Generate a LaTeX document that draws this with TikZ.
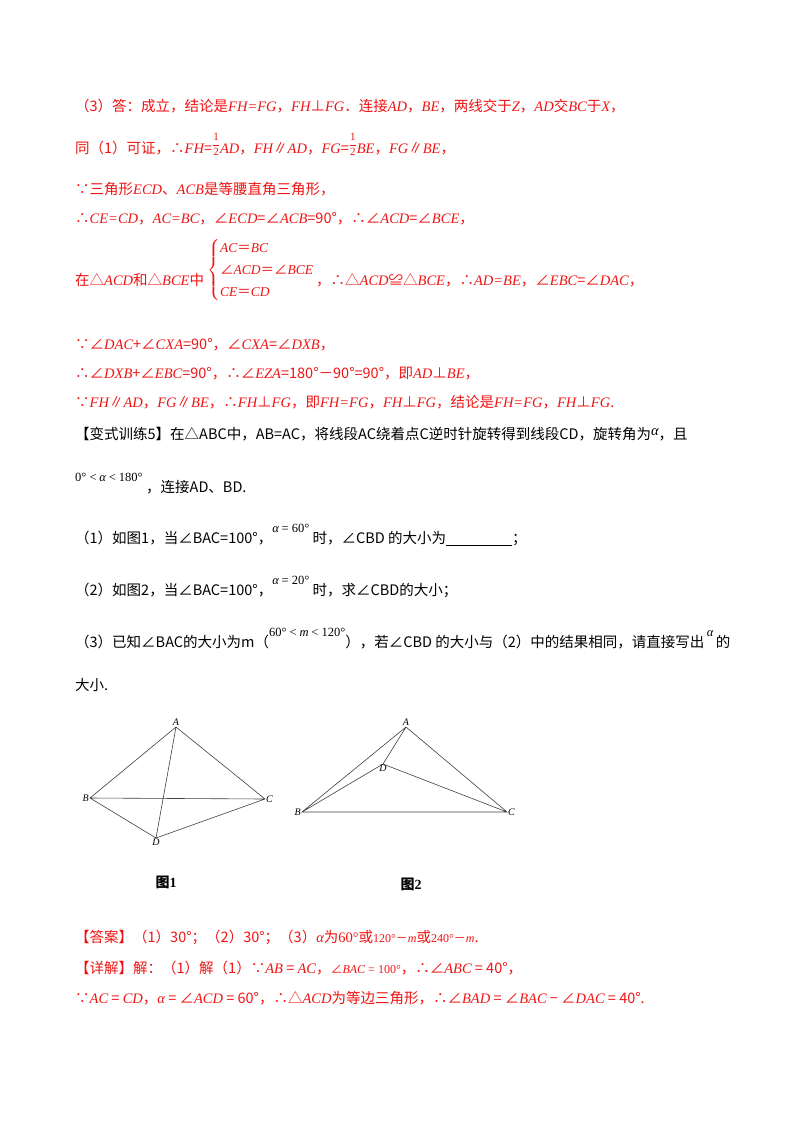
\documentclass[tikz,border=0pt]{standalone}
\usepackage{fontspec}
\usepackage{amsmath}
\setmainfont{Noto Sans CJK SC}
\newfontfamily\lser{Liberation Serif}
\newcommand{\mi}[1]{{\lser\itshape #1}}
\newcommand{\mr}[1]{{\lser #1}}
\newcommand{\half}{\raisebox{5pt}{\fontsize{11}{11}\selectfont\lser$\dfrac{\text{1}}{\text{2}}$}}
\newcommand{\upm}[1]{\raisebox{11pt}{\fontsize{12.5}{13}\selectfont #1}}
\definecolor{myred}{RGB}{240,20,20}
\begin{document}
\begin{tikzpicture}[x=1pt,y=-1pt,
 txt/.style={anchor=base west,inner sep=0pt,font=\fontsize{14.5}{16}\selectfont},
 rtxt/.style={txt,text=myred},
 sm/.style={anchor=base west,inner sep=0pt,font=\fontsize{12.5}{13}\selectfont},
 lab/.style={inner sep=1pt,font=\fontsize{10}{10}\selectfont\lser\itshape},
 edge/.style={draw=black!75,line width=0.6pt}]
\useasboundingbox[fill=white] (0,0) rectangle (800,1132);
% red proof
\node[rtxt] (l1) at (75,111) {（3）答：成立，结论是\mi{FH=FG}，\mi{FH}⊥\mi{FG}．连接\mi{AD}，\mi{BE}，两线交于\mi{Z}，\mi{AD}交\mi{BC}于\mi{X}，};
\node[rtxt] (l2) at (75,153) {同（1）可证，∴\mi{FH}=\half\mi{AD}，\mi{FH}∥\mi{AD}，\mi{FG}=\half\mi{BE}，\mi{FG}∥\mi{BE}，};
\node[rtxt] (l3) at (75,194) {∵三角形\mi{ECD}、\mi{ACB}是等腰直角三角形，};
\node[rtxt] (l4) at (75,223) {∴\mi{CE=CD}，\mi{AC=BC}，∠\mi{ECD}=∠\mi{ACB}=90°，∴∠\mi{ACD}=∠\mi{BCE}，};
\node[rtxt] (l5) at (75,285) {在△\mi{ACD}和△\mi{BCE}中};
\node[rtxt,anchor=west,font=\fontsize{13.5}{20}\selectfont] (cs) at (207,270) {$\left\{\begin{array}{@{}l@{}}\text{\mi{AC}＝\mi{BC}}\\[2pt]\text{∠\mi{ACD}＝∠\mi{BCE}}\\[2pt]\text{\mi{CE}＝\mi{CD}}\end{array}\right.$};
\node[rtxt] (l5b) at (316,285) {，∴△\mi{ACD}≌△\mi{BCE}，∴\mi{AD=BE}，∠\mi{EBC}=∠\mi{DAC}，};
\node[rtxt] (l6) at (75,349) {∵∠\mi{DAC}+∠\mi{CXA}=90°，∠\mi{CXA}=∠\mi{DXB}，};
\node[rtxt] (l7) at (75,378) {∴∠\mi{DXB}+∠\mi{EBC}=90°，∴∠\mi{EZA}=180°－90°=90°，即\mi{AD}⊥\mi{BE}，};
\node[rtxt] (l8) at (75,407) {∵\mi{FH}∥\mi{AD}，\mi{FG}∥\mi{BE}，∴\mi{FH}⊥\mi{FG}，即\mi{FH=FG}，\mi{FH}⊥\mi{FG}，结论是\mi{FH=FG}，\mi{FH}⊥\mi{FG}.};
% problem
\node[txt] (p1) at (75,439) {【变式训练5】在△ABC中，AB=AC，将线段AC绕着点C逆时针旋转得到线段CD，旋转角为\raisebox{4pt}{\mi{α}}，且};
\node[sm] (p2a) at (75,481) {\mr{0° <} \mi{α} \mr{< 180°}};
\node[txt] (p2) at (146,492) {，连接AD、BD.};
\node[txt] (p3) at (75,543) {（1）如图1，当∠BAC=100°，\upm{\mi{α} \mr{= 60°}}\ 时，∠CBD 的大小为\underline{\hspace{66pt}}；};
\node[txt] (p4) at (75,595) {（2）如图2，当∠BAC=100°，\upm{\mi{α} \mr{= 20°}}\ 时，求∠CBD的大小；};
\node[txt] (p5) at (75,647) {（3）已知∠BAC的大小为m（\upm{\mr{60° <} \mi{m} \mr{< 120°}}），若∠CBD 的大小与（2）中的结果相同，请直接写出\,\upm{\mi{α}}\,的};
\node[txt] (p6) at (75,690) {大小.};
% figure 1
\coordinate (A1) at (176,727); \coordinate (B1) at (90,798);
\coordinate (C1) at (265,799); \coordinate (D1) at (156,838);
\draw[edge] (A1)--(B1)--(D1)--(C1)--cycle (A1)--(D1) (B1)--(C1);
\node[lab,above] (la1) at (A1) {A};
\node[lab,left] (lb1) at (B1) {B};
\node[lab,right] (lc1) at (C1) {C};
\node[lab,below] (ld1) at (D1) {D};
% figure 2
\coordinate (A2) at (406,727); \coordinate (B2) at (302,812);
\coordinate (C2) at (507,812); \coordinate (D2) at (383,764);
\draw[edge] (A2)--(B2)--(C2)--cycle (A2)--(D2)--(C2) (D2)--(B2);
\node[lab,above] (la2) at (A2) {A};
\node[lab,left] (lb2) at (B2) {B};
\node[lab,right] (lc2) at (C2) {C};
\node[lab,below] (ld2) at (D2) {D};
\node[txt,anchor=center,font=\fontsize{14}{14}\selectfont\bfseries] (g1) at (166,882) {图\mr{\textbf{1}}};
\node[txt,anchor=center,font=\fontsize{14}{14}\selectfont\bfseries] (g2) at (411,884) {图\mr{\textbf{2}}};
% answer
\node[rtxt] (a1) at (75,942) {【答案】（1）30°；（2）30°；（3）\mi{α}为\mr{60°}或{\fontsize{12}{12}\selectfont\mr{120°}－\mi{m}}或{\fontsize{12}{12}\selectfont\mr{240°}－\mi{m}}.};
\node[rtxt] (a2) at (75,973) {【详解】解：（1）解（1）∵\mi{AB} = \mi{AC}，{\fontsize{12}{12}\selectfont∠\mi{BAC}\mr{ = 100°}}，∴∠\mi{ABC} = 40°，};
\node[rtxt] (a3) at (75,1003) {∵\mi{AC} = \mi{CD}，\mi{α} = ∠\mi{ACD} = 60°，∴△\mi{ACD}为等边三角形，∴∠\mi{BAD} = ∠\mi{BAC} − ∠\mi{DAC} = 40°.};
\end{tikzpicture}
\end{document}
